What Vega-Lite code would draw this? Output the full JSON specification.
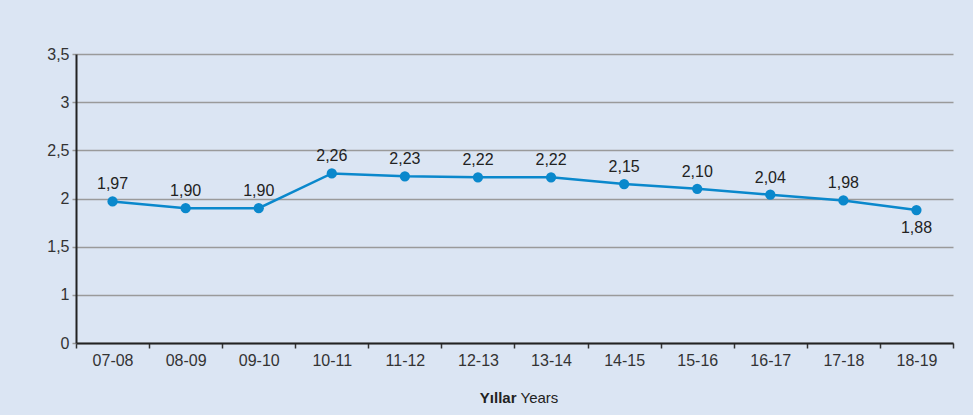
{
  "$schema": "https://vega.github.io/schema/vega-lite/v6.json",
  "autosize": "none",
  "width": 877,
  "height": 289,
  "padding": {"left": 76, "top": 54, "right": 20, "bottom": 72},
  "background": "#dbe5f3",
  "config": {
    "view": {"stroke": null},
    "font": "Liberation Sans",
    "locale": {"number": {"decimal": ",", "thousands": ".", "grouping": [3], "currency": ["", ""]}},
    "axis": {"labelFont": "Liberation Sans", "titleFont": "Liberation Sans"}
  },
  "data": {
    "values": [
      {"year": "07-08", "value": 1.97},
      {"year": "08-09", "value": 1.90},
      {"year": "09-10", "value": 1.90},
      {"year": "10-11", "value": 2.26},
      {"year": "11-12", "value": 2.23},
      {"year": "12-13", "value": 2.22},
      {"year": "13-14", "value": 2.22},
      {"year": "14-15", "value": 2.15},
      {"year": "15-16", "value": 2.10},
      {"year": "16-17", "value": 2.04},
      {"year": "17-18", "value": 1.98},
      {"year": "18-19", "value": 1.88}
    ]
  },
  "resolve": {"axis": {"x": "independent"}},
  "layer": [
    {
      "mark": {"type": "line", "color": "#0a88cc", "strokeWidth": 2.5},
      "encoding": {
        "x": {
          "field": "year", "type": "ordinal", "sort": null,
          "scale": {"type": "band", "paddingInner": 0, "paddingOuter": 0},
          "axis": {
            "orient": "bottom",
            "title": "Yıllar",
            "titleFontWeight": "bold",
            "titleFontSize": 15,
            "titleColor": "#222",
            "titleAlign": "right",
            "titleX": 440,
            "titleY": 47,
            "labelAngle": 0,
            "labelFontSize": 16,
            "labelColor": "#333",
            "labelPadding": 4,
            "tickBand": "extent",
            "tickSize": 5,
            "tickWidth": 1.5,
            "tickColor": "#333",
            "domainColor": "#222",
            "domainWidth": 2,
            "grid": false
          }
        },
        "y": {
          "field": "value", "type": "quantitative",
          "scale": {"domain": [0.5, 3.5], "nice": false, "zero": false},
          "axis": {
            "title": null,
            "values": [0.5, 1, 1.5, 2, 2.5, 3, 3.5],
            "format": ".1~f",
            "labelExpr": "datum.value == 0.5 ? '0' : datum.label",
            "labelFontSize": 16,
            "labelColor": "#333",
            "labelPadding": 3,
            "tickSize": 4,
            "tickColor": "#999",
            "tickWidth": 1.5,
            "grid": true,
            "gridColor": "#9a9a9a",
            "gridWidth": 1.5,
            "domainColor": "#222",
            "domainWidth": 2
          }
        }
      }
    },
    {
      "mark": {"type": "point", "filled": true, "opacity": 1, "color": "#0a88cc", "size": 105},
      "encoding": {
        "x": {"field": "year", "type": "ordinal", "sort": null, "axis": null},
        "y": {"field": "value", "type": "quantitative"}
      }
    },
    {
      "transform": [{"filter": "datum.year != '18-19'"}],
      "mark": {"type": "text", "baseline": "bottom", "dy": -9, "fontSize": 16, "color": "#222"},
      "encoding": {
        "x": {"field": "year", "type": "ordinal", "sort": null, "axis": null},
        "y": {"field": "value", "type": "quantitative"},
        "text": {"field": "value", "type": "quantitative", "format": ".2f"}
      }
    },
    {
      "transform": [{"filter": "datum.year == '18-19'"}],
      "mark": {"type": "text", "baseline": "top", "dy": 10, "fontSize": 16, "color": "#222"},
      "encoding": {
        "x": {
          "field": "year", "type": "ordinal", "sort": null,
          "axis": {
            "orient": "bottom",
            "title": "Years",
            "titleFontWeight": "normal",
            "titleFontSize": 15,
            "titleColor": "#222",
            "titleAlign": "left",
            "titleX": 444,
            "titleY": 47,
            "labels": false,
            "ticks": false,
            "domain": false,
            "grid": false
          }
        },
        "y": {"field": "value", "type": "quantitative"},
        "text": {"field": "value", "type": "quantitative", "format": ".2f"}
      }
    }
  ]
}
